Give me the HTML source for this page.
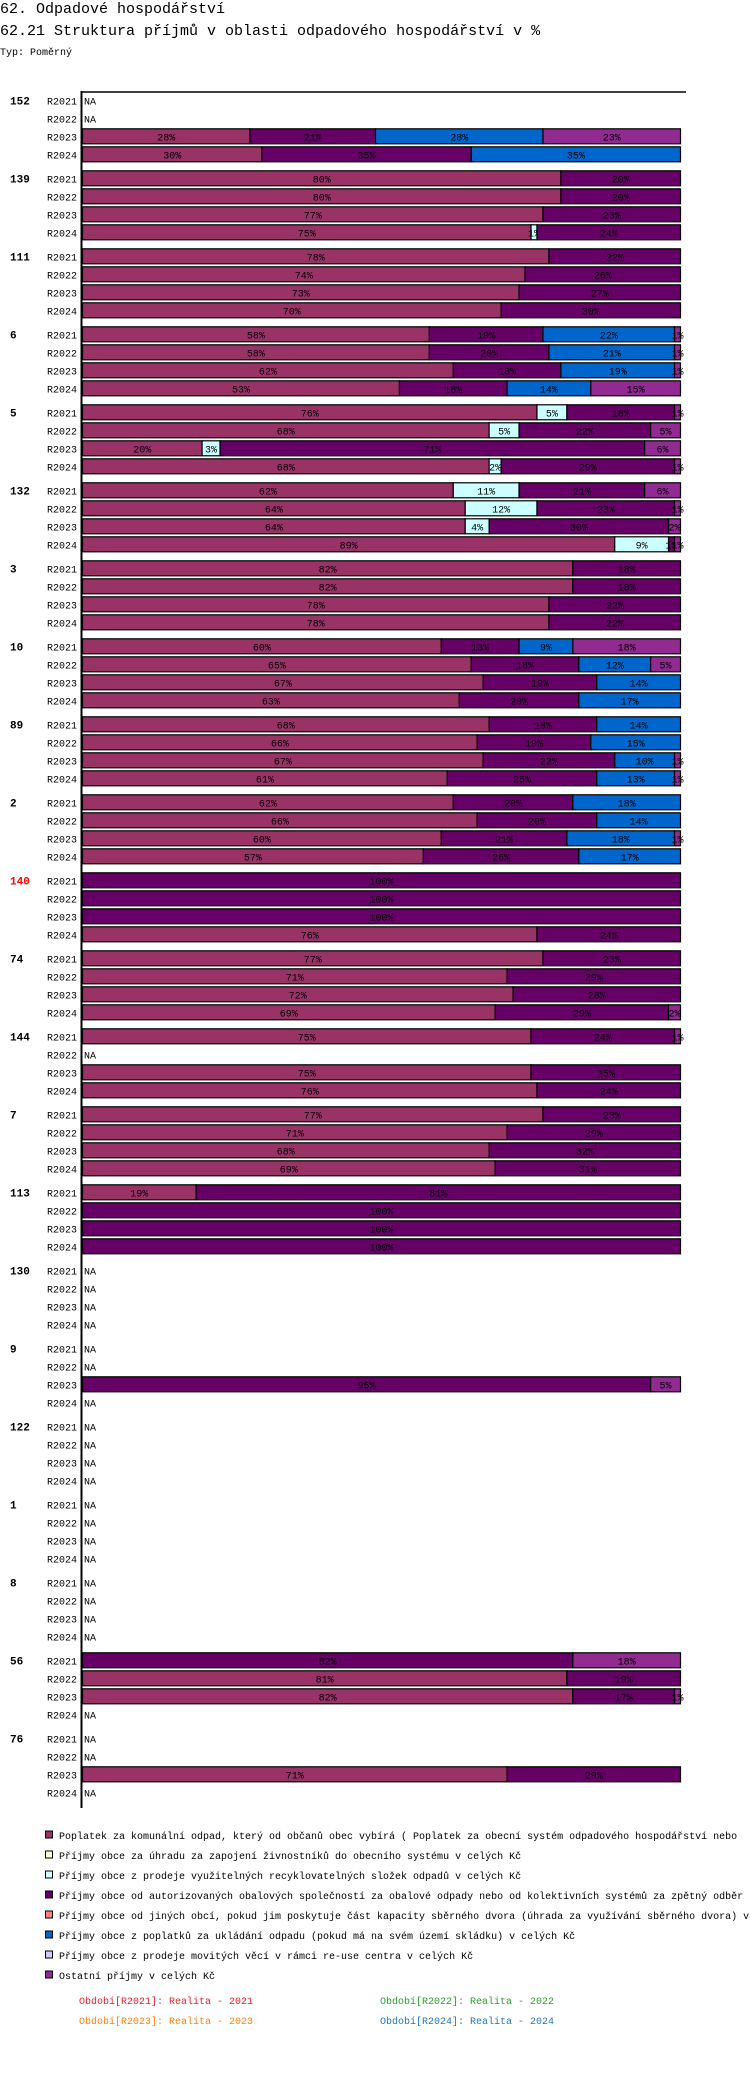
<!DOCTYPE html>
<html><head><meta charset="utf-8"><style>
body{margin:0;background:#fff;width:750px;height:2078px;overflow:hidden;font-family:"Liberation Mono",monospace}
svg{position:absolute;left:0;top:0}
</style></head><body>
<svg id="chart" width="750" height="2078" xmlns="http://www.w3.org/2000/svg" font-family="Liberation Mono, DejaVu Sans Mono, monospace">
<text x="0" y="13" font-size="15">62. Odpadové hospodářství</text>
<text x="0" y="35" font-size="15">62.21 Struktura příjmů v oblasti odpadového hospodářství v %</text>
<text x="0" y="55" font-size="10">Typ: Poměrný</text>
<line x1="81" y1="92" x2="686" y2="92" stroke="#000" stroke-width="1.5"/>
<line x1="81.5" y1="91" x2="81.5" y2="1808" stroke="#000" stroke-width="2"/>
<g id="bars"></g>
<g id="legend"></g>
</svg>
<script>
const groups = ["152","139","111","6","5","132","3","10","89","2","140","74","144","7","113","130","9","122","1","8","56","76"];
const periods = ["R2021","R2022","R2023","R2024"];
const seriesNames = ["Poplatek za komunální odpad, který od občanů obec vybírá ( Poplatek za obecní systém odpadového hospodářství  nebo","Příjmy obce za úhradu za zapojení živnostníků do obecního systému v celých Kč","Příjmy obce z prodeje využitelných recyklovatelných složek odpadů v celých Kč","Příjmy obce od autorizovaných obalových společností za obalové odpady nebo od kolektivních systémů za zpětný odběr","Příjmy obce od jiných obcí, pokud jim poskytuje část kapacity sběrného dvora (úhrada za využívání sběrného dvora) v","Příjmy obce z poplatků za ukládání odpadu (pokud má na svém území skládku) v celých Kč","Příjmy obce z prodeje movitých věcí v rámci re-use centra v celých Kč","Ostatní příjmy v celých Kč"];
const seriesColors = ["#993366","#ffffcc","#ccffff","#660066","#ff8080","#0066cc","#ccccff","#912a91"];
// values per row: [K, Y, C, P, S, B, L, O], null = NA
const values = [
 [null,null,[28,0,0,21,0,28,0,23],[30,0,0,35,0,35,0,0]],
 [[80,0,0,20,0,0,0,0],[80,0,0,20,0,0,0,0],[77,0,0,23,0,0,0,0],[75,0,1,24,0,0,0,0]],
 [[78,0,0,22,0,0,0,0],[74,0,0,26,0,0,0,0],[73,0,0,27,0,0,0,0],[70,0,0,30,0,0,0,0]],
 [[58,0,0,19,0,22,0,1],[58,0,0,20,0,21,0,1],[62,0,0,18,0,19,0,1],[53,0,0,18,0,14,0,15]],
 [[76,0,5,18,0,0,0,1],[68,0,5,22,0,0,0,5],[20,0,3,71,0,0,0,6],[68,0,2,29,0,0,0,1]],
 [[62,0,11,21,0,0,0,6],[64,0,12,23,0,0,0,1],[64,0,4,30,0,0,0,2],[89,0,9,1,0,0,0,1]],
 [[82,0,0,18,0,0,0,0],[82,0,0,18,0,0,0,0],[78,0,0,22,0,0,0,0],[78,0,0,22,0,0,0,0]],
 [[60,0,0,13,0,9,0,18],[65,0,0,18,0,12,0,5],[67,0,0,19,0,14,0,0],[63,0,0,20,0,17,0,0]],
 [[68,0,0,18,0,14,0,0],[66,0,0,19,0,15,0,0],[67,0,0,22,0,10,0,1],[61,0,0,25,0,13,0,1]],
 [[62,0,0,20,0,18,0,0],[66,0,0,20,0,14,0,0],[60,0,0,21,0,18,0,1],[57,0,0,26,0,17,0,0]],
 [[0,0,0,100,0,0,0,0],[0,0,0,100,0,0,0,0],[0,0,0,100,0,0,0,0],[76,0,0,24,0,0,0,0]],
 [[77,0,0,23,0,0,0,0],[71,0,0,29,0,0,0,0],[72,0,0,28,0,0,0,0],[69,0,0,29,0,0,0,2]],
 [[75,0,0,24,0,0,0,1],null,[75,0,0,25,0,0,0,0],[76,0,0,24,0,0,0,0]],
 [[77,0,0,23,0,0,0,0],[71,0,0,29,0,0,0,0],[68,0,0,32,0,0,0,0],[69,0,0,31,0,0,0,0]],
 [[19,0,0,81,0,0,0,0],[0,0,0,100,0,0,0,0],[0,0,0,100,0,0,0,0],[0,0,0,100,0,0,0,0]],
 [null,null,null,null],
 [null,null,[0,0,0,95,0,0,0,5],null],
 [null,null,null,null],
 [null,null,null,null],
 [null,null,null,null],
 [[0,0,0,82,0,0,0,18],[81,0,0,19,0,0,0,0],[82,0,0,17,0,0,0,1],null],
 [null,null,[71,0,0,29,0,0,0,0],null]
];
const highlightGroup = "140";

const NS = "http://www.w3.org/2000/svg";
const X0 = 82.5, XW = 598, TOP = 92.3, GROUP_PITCH = 78, ROW_PITCH = 18, BAR_H = 15;
function xScale(v){ return X0 + v / 100 * XW; }
function rowY(g, r){ return TOP + g * GROUP_PITCH + r * ROW_PITCH; }
function mk(tag, attrs, parent){ const e = document.createElementNS(NS, tag); for (const k in attrs) e.setAttribute(k, attrs[k]); parent.appendChild(e); return e; }

const barsG = document.getElementById('bars');
groups.forEach((gName, g) => {
  const gl = mk('text', {x: 10, y: rowY(g,0) + 12, 'font-size': 11, 'font-weight': 'bold', fill: gName === highlightGroup ? '#ff0000' : '#000'}, barsG);
  
  
  gl.textContent = gName;
  periods.forEach((p, r) => {
    const y = rowY(g, r);
    const pl = mk('text', {x: 77, y: y + 12, 'font-size': 10, 'text-anchor': 'end'}, barsG);
    
    
    pl.textContent = p;
    const row = values[g][r];
    if (!row) {
      const na = mk('text', {x: 84, y: y + 12, 'font-size': 10}, barsG);
      
      
      na.textContent = 'NA';
      return;
    }
    let cum = 0;
    row.forEach((v, s) => {
      if (!v) return;
      const x1 = xScale(cum), x2 = xScale(cum + v);
      const rect = mk('rect', {x: x1, y: y + 0.5, width: x2 - x1, height: BAR_H, fill: seriesColors[s], stroke: '#000', 'stroke-width': 1.2}, barsG);
      
      
      const t = mk('text', {x: (x1 + x2) / 2, y: y + 12, 'font-size': 10, 'text-anchor': 'middle', fill: '#000'}, barsG);
      
      
      t.textContent = v + '%';
      cum += v;
    });
  });
});

const lg = document.getElementById('legend');
seriesNames.forEach((n, i) => {
  const y = 1835 + i * 20;
  const sq = mk('rect', {x: 45.5, y: y - 4, width: 7, height: 7, fill: seriesColors[i], stroke: '#000', 'stroke-width': 1}, lg);
  
  
  const t = mk('text', {x: 59, y: y + 4, 'font-size': 10}, lg);
  
  
  t.textContent = n;
});
const periodLegend = [["Období[R2021]: Realita - 2021","#e8202a",79,2000],["Období[R2022]: Realita - 2022","#2ca02c",380,2000],["Období[R2023]: Realita - 2023","#ff7f0e",79,2020],["Období[R2024]: Realita - 2024","#1f77b4",380,2020]];
periodLegend.forEach(pl => {
  const t = mk('text', {x: pl[2], y: pl[3] + 4, 'font-size': 10, fill: pl[1]}, lg);
  
  
  t.textContent = pl[0];
});
</script>
</body></html>
